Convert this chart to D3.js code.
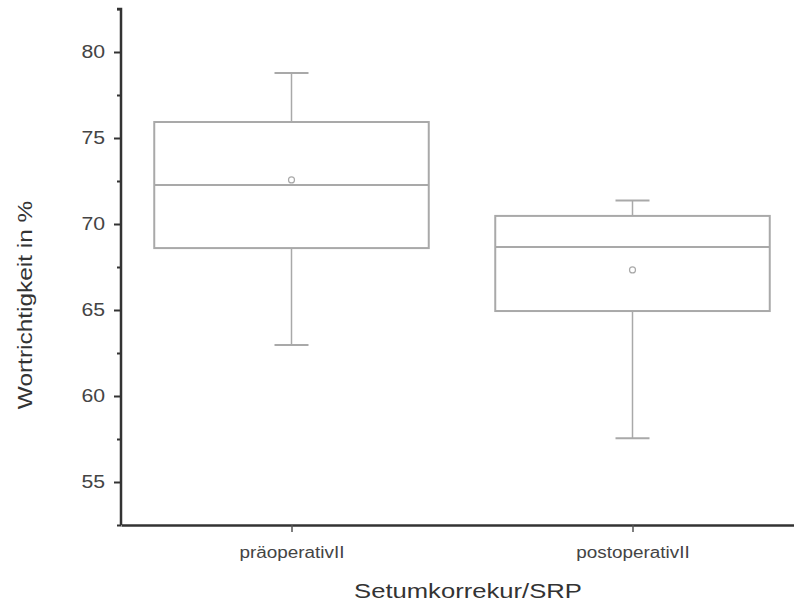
<!DOCTYPE html>
<html lang="de">
<head>
<meta charset="utf-8">
<title>Wortrichtigkeit Boxplot</title>
<script src="https://d3js.org/d3.v7.min.js"></script>
<style>
  body { margin: 0; background: #fff; }
  svg { display: block; font-family: Arial, "Liberation Sans", sans-serif; }
</style>
</head>
<body>
<script>
// data
var categories = ['präoperativII', 'postoperativII'];
var whiskerLow = [62.97, 57.55];
var q1 = [68.6, 64.94];
var median = [72.27, 68.66];
var q3 = [75.93, 70.47];
var whiskerHigh = [78.78, 71.36];
var means = [72.56, 67.33];
var yTicks = [55, 60, 65, 70, 75, 80];

var width = 794, height = 608;
var svg = d3.select('body').append('svg').attr('width', width).attr('height', height);

var y = d3.scaleLinear().domain([52.5, 82.5]).range([525, 9]);
var x = d3.scalePoint().domain(categories).range([121, 803]).padding(0.5);
var boxW = x.step() * 0.805;
var capW = 34;

var boxColor = '#a9a9a9';

// the original picture is stretched sideways, so widen the text a bit
function stretch(sel, k) {
    sel.each(function () {
        var w = this.getComputedTextLength();
        d3.select(this).attr('textLength', w * k).attr('lengthAdjust', 'spacingAndGlyphs');
    });
}

var data = categories.map(function (c, i) {
    return { cat: c, lo: whiskerLow[i], q1: q1[i], med: median[i], q3: q3[i], hi: whiskerHigh[i], mean: means[i] };
});

var g = svg.append('g');
var box = g.selectAll('g.box').data(data).enter().append('g').attr('class', 'box');

// whiskers
box.append('line')
    .attr('x1', function (d) { return x(d.cat); }).attr('x2', function (d) { return x(d.cat); })
    .attr('y1', function (d) { return y(d.q3); }).attr('y2', function (d) { return y(d.hi); })
    .attr('stroke', boxColor).attr('stroke-width', 1.5);
box.append('line')
    .attr('x1', function (d) { return x(d.cat); }).attr('x2', function (d) { return x(d.cat); })
    .attr('y1', function (d) { return y(d.q1); }).attr('y2', function (d) { return y(d.lo); })
    .attr('stroke', boxColor).attr('stroke-width', 1.5);
['hi', 'lo'].forEach(function (k) {
    box.append('line')
        .attr('x1', function (d) { return x(d.cat) - capW / 2; }).attr('x2', function (d) { return x(d.cat) + capW / 2; })
        .attr('y1', function (d) { return y(d[k]); }).attr('y2', function (d) { return y(d[k]); })
        .attr('stroke', boxColor).attr('stroke-width', 2);
});

// box
box.append('rect')
    .attr('x', function (d) { return x(d.cat) - boxW / 2; })
    .attr('y', function (d) { return y(d.q3); })
    .attr('width', boxW)
    .attr('height', function (d) { return y(d.q1) - y(d.q3); })
    .attr('fill', 'none').attr('stroke', boxColor).attr('stroke-width', 2);
box.append('line')
    .attr('x1', function (d) { return x(d.cat) - boxW / 2; }).attr('x2', function (d) { return x(d.cat) + boxW / 2; })
    .attr('y1', function (d) { return y(d.med); }).attr('y2', function (d) { return y(d.med); })
    .attr('stroke', boxColor).attr('stroke-width', 2);
box.append('circle')
    .attr('cx', function (d) { return x(d.cat); })
    .attr('cy', function (d) { return y(d.mean); })
    .attr('r', 3).attr('fill', 'none').attr('stroke', boxColor).attr('stroke-width', 1.2);

// y axis
var yAxis = svg.append('g').attr('transform', 'translate(121,0)')
    .call(d3.axisLeft(y).tickValues(yTicks).tickSize(7).tickPadding(9).tickSizeOuter(0));
svg.append('g').attr('transform', 'translate(121,0)')
    .call(d3.axisLeft(y).tickValues(d3.range(52.5, 83, 5)).tickSize(4).tickFormat('').tickSizeOuter(0))
    .select('.domain').remove();
yAxis.select('.domain').attr('stroke', '#333').attr('stroke-width', 2.5).attr('d', 'M-4,' + y(82.5) + 'H0V' + y(52.5));
yAxis.selectAll('.tick text').attr('font-size', 18).attr('fill', '#444').call(stretch, 1.18);
svg.selectAll('.tick line').attr('stroke', '#333').attr('stroke-width', 2);

// x axis
var xAxis = svg.append('g').attr('transform', 'translate(0,525)')
    .call(d3.axisBottom(x).tickSize(7).tickPadding(15).tickSizeOuter(0));
xAxis.select('.domain').attr('stroke', '#333').attr('stroke-width', 2.5);
xAxis.selectAll('.tick line').attr('stroke', '#555').attr('stroke-width', 1.5);
xAxis.selectAll('.tick text').attr('font-size', 16).attr('fill', '#444').call(stretch, 1.18);

// titles
svg.append('text').attr('x', 468).attr('y', 598).attr('text-anchor', 'middle')
    .attr('font-size', 21).attr('fill', '#333').text('Setumkorrekur/SRP').call(stretch, 1.22);
svg.append('text').attr('transform', 'translate(32,305) rotate(-90)').attr('text-anchor', 'middle')
    .attr('font-size', 20).attr('fill', '#333').text('Wortrichtigkeit in %').call(stretch, 1.22);
</script>
</body>
</html>
